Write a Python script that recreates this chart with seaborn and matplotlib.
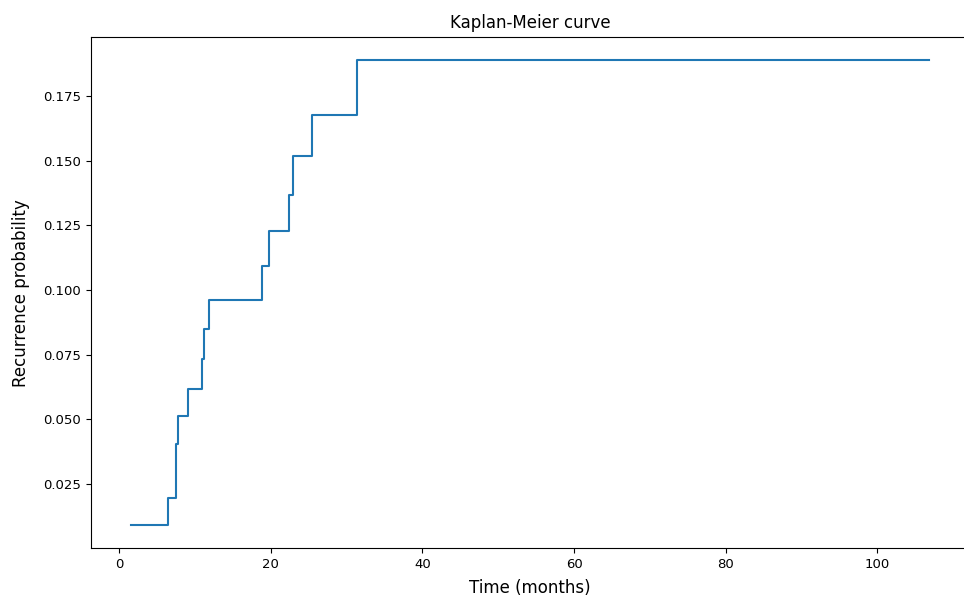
import matplotlib
matplotlib.use("Agg")
import matplotlib.pyplot as plt
import seaborn as sns
import pandas as pd

time_months = [1.52, 6.39, 7.44, 7.75, 9.12, 10.96, 11.17, 11.88, 18.81, 19.74,
               22.37, 22.90, 25.45, 31.38, 106.82]
recurrence_prob = [0.0092, 0.0197, 0.0405, 0.0513, 0.0617, 0.0732, 0.0848, 0.0963,
                   0.1093, 0.1229, 0.1369, 0.1518, 0.1678, 0.1888, 0.1888]

df = pd.DataFrame({"time": time_months, "prob": recurrence_prob})

fig = plt.figure(figsize=(9.64, 5.96), dpi=100)
ax = fig.add_axes([0.0941, 0.0805, 0.911, 0.857])
sns.lineplot(data=df, x="time", y="prob", drawstyle="steps-post", estimator=None,
             color="#1f77b4", linewidth=1.5, ax=ax)
ax.set_title("Kaplan-Meier curve", fontsize=12, pad=7)
ax.set_xlabel("Time (months)", fontsize=12, labelpad=6)
ax.set_ylabel("Recurrence probability", fontsize=12, labelpad=9)
ax.tick_params(labelsize=9.5)
fig.savefig("out.png", dpi=100)
